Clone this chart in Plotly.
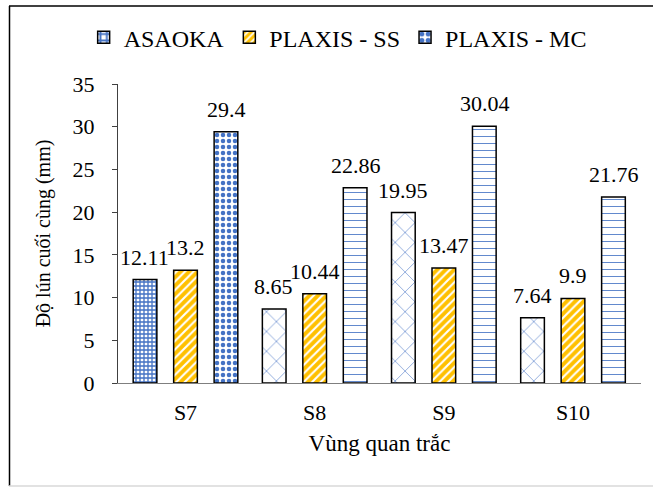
import plotly.graph_objects as go

categories = ["S7", "S8", "S9", "S10"]
asaoka = [12.11, 8.65, 19.95, 7.64]
plaxis_ss = [13.2, 10.44, 13.47, 9.9]
plaxis_mc = [29.4, 22.86, 30.04, 21.76]
labels_asaoka = ["12.11", "8.65", "19.95", "7.64"]
labels_ss = ["13.2", "10.44", "13.47", "9.9"]
labels_mc = ["29.4", "22.86", "30.04", "21.76"]

BLUE = "#4472C4"
YELLOW = "#FFC000"
FONT = "Liberation Serif, Times New Roman, serif"
W, H = 653, 487
L, R, T, B = 118, 12, 84, 104
PW, PH = W - L - R, H - T - B
SLOT = 41  # pixel distance between bars within a group

fig = go.Figure()
fig.add_trace(go.Bar(
    name="ASAOKA", x=categories, y=asaoka,
    marker=dict(color="white", line=dict(color="black", width=1.5),
                pattern=dict(shape=["+", "x", "x", "x"], size=[4, 14, 14, 14],
                             solidity=[0.55, 0.08, 0.08, 0.08],
                             fgcolor=BLUE, bgcolor="white", fillmode="replace"))))
fig.add_trace(go.Bar(
    name="PLAXIS - SS", x=categories, y=plaxis_ss,
    marker=dict(color=YELLOW, line=dict(color="black", width=1.5),
                pattern=dict(shape="/", size=6, solidity=0.35,
                             fgcolor="white", bgcolor=YELLOW, fillmode="replace"))))
fig.add_trace(go.Bar(
    name="PLAXIS - MC", x=categories, y=plaxis_mc,
    marker=dict(color="white", line=dict(color="black", width=1.5),
                pattern=dict(shape=[".", "-", "-", "-"], size=[6, 7, 7, 7],
                             solidity=[0.45, 0.12, 0.12, 0.12],
                             fgcolor=BLUE, bgcolor="white", fillmode="replace"))))

# value labels above bars
for k, (vals, labs) in enumerate([(asaoka, labels_asaoka), (plaxis_ss, labels_ss),
                                  (plaxis_mc, labels_mc)]):
    for c, v, t in zip(categories, vals, labs):
        fig.add_annotation(x=c, y=v, xref="x", yref="y", text=t, showarrow=False,
                           xshift=(k - 1) * SLOT, yshift=8, yanchor="bottom",
                           font=dict(family=FONT, size=22, color="black"))

fig.update_layout(
    width=W, height=H, margin=dict(l=L, r=R, t=T, b=B, autoexpand=False),
    paper_bgcolor="white", plot_bgcolor="white",
    font=dict(family=FONT, size=22, color="black"),
    barmode="group", bargap=0.06, bargroupgap=0.415,
    showlegend=True,
    legend=dict(orientation="h", x=0.42, xanchor="center", y=1.155, yanchor="middle",
                font=dict(family=FONT, size=24, color="black"), itemwidth=30,
                traceorder="normal"),
    xaxis=dict(showline=True, linecolor="#7f7f7f", linewidth=1, ticks="outside",
               ticklen=10, tickcolor="rgba(0,0,0,0)", showgrid=False,
               tickfont=dict(family=FONT, size=22, color="black"),
               title=dict(text="Vùng quan trắc", font=dict(family=FONT, size=23), standoff=10)),
    yaxis=dict(range=[0, 35], dtick=5, showline=True, linecolor="#404040", linewidth=1,
               ticks="outside", ticklen=5, tickcolor="#404040", showgrid=False,
               ticklabelstandoff=13,
               tickfont=dict(family=FONT, size=22, color="black"),
               title=dict(text="Độ lún cuối cùng (mm)", font=dict(family=FONT, size=20), standoff=16)),
)

def px_x(x):
    return (x - L) / PW
def px_y(y):
    return (H - B - y) / PH
fig.add_shape(type="line", xref="paper", yref="paper", x0=px_x(9.5), x1=px_x(9.5),
              y0=px_y(6), y1=px_y(486), line=dict(color="black", width=1.5))
fig.add_shape(type="line", xref="paper", yref="paper", x0=px_x(9), x1=px_x(660),
              y0=px_y(6), y1=px_y(6), line=dict(color="black", width=1.5))
fig.add_shape(type="line", xref="paper", yref="paper", x0=px_x(9), x1=px_x(660),
              y0=px_y(486), y1=px_y(486), line=dict(color="#d9d9d9", width=1.5))

fig.write_html("out.html")
